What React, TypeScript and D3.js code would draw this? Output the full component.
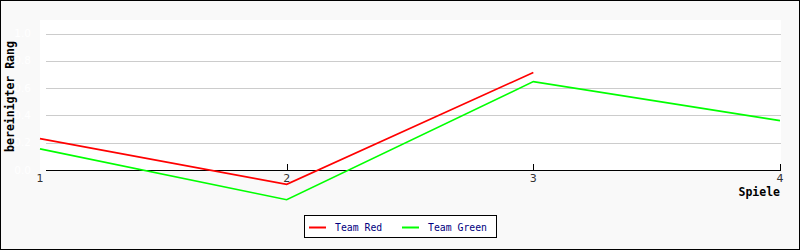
import React from "react";
import * as d3 from "d3";

const games = [1, 2, 3, 4];
const teamRed = [0.23, -0.105, 0.715];
const teamGreen = [0.155, -0.218, 0.648, 0.362];
const yTicks = [0, 0.2, 0.4, 0.6, 0.8, 1.0];
const seriesNames = ["Team Red", "Team Green"];
const seriesColors = ["#ff0000", "#00ff00"];

const W = 800;
const H = 250;

export default function App() {
  const x = d3.scaleLinear().domain([1, 4]).range([40, 780]);
  const y = d3.scaleLinear().domain([0, 1.1]).range([170, 20]);
  const line = d3
    .line<number>()
    .x((_, i) => x(games[i]))
    .y((d) => y(d));
  const series = [teamRed, teamGreen];
  const legendX = 304.5;
  const legendY = 215.5;
  const legendItemX = [0, 93];

  return (
    <svg
      width={W}
      height={H}
      style={{ position: "absolute", left: 0, top: 0 }}
      xmlns="http://www.w3.org/2000/svg"
    >
      <rect x={0.5} y={0.5} width={W - 1} height={H - 1} fill="#f9f9f9" stroke="#000" strokeWidth={1} />
      <rect x={40} y={20} width={741} height={150} fill="#fff" />
      {yTicks.map((t) =>
        t === 0 ? null : (
          <line key={"g" + t} x1={46} x2={781} y1={Math.round(y(t)) + 0.5} y2={Math.round(y(t)) + 0.5} stroke="#cccccc" strokeWidth={1} />
        )
      )}
      {yTicks.map((t) => (
        <text
          key={"yl" + t}
          x={31}
          y={y(t) + 3.5}
          textAnchor="end"
          fontFamily="DejaVu Sans"
          fontSize={10.5}
          fill="#ffffff"
        >
          {t.toFixed(1)}
        </text>
      ))}
      <line x1={46} x2={781} y1={170.5} y2={170.5} stroke="#000" strokeWidth={1} />
      {games.map((g, i) => (
        <g key={"xt" + g}>
          {i > 0 && (
            <line
              x1={Math.round(x(g)) + 0.5}
              x2={Math.round(x(g)) + 0.5}
              y1={164}
              y2={170}
              stroke="#000"
              strokeWidth={1}
            />
          )}
          <text
            x={x(g)}
            y={182}
            textAnchor="middle"
            fontFamily="DejaVu Sans"
            fontSize={11}
            fill="#333"
          >
            {g}
          </text>
        </g>
      ))}
      {series.map((s, i) => (
        <path
          key={"s" + i}
          d={line(s) || ""}
          fill="none"
          stroke={seriesColors[i]}
          strokeWidth={1.6}
        />
      ))}
      <text
        x={780}
        y={196}
        textAnchor="end"
        fontFamily="DejaVu Sans Mono"
        fontWeight="bold"
        fontSize={11.5}
        fill="#000"
      >
        Spiele
      </text>
      <text
        transform="translate(13.5,96.5) rotate(-90)"
        textAnchor="middle"
        fontFamily="DejaVu Sans Mono"
        fontWeight="bold"
        fontSize={11.5}
        fill="#000"
      >
        bereinigter Rang
      </text>
      <rect x={legendX} y={legendY} width={192} height={22} fill="#fff" stroke="#000" strokeWidth={1} />
      {seriesNames.map((n, i) => (
        <g key={"lg" + i}>
          <line
            x1={legendX + 4.5 + legendItemX[i]}
            x2={legendX + 21.5 + legendItemX[i]}
            y1={legendY + 12}
            y2={legendY + 12}
            stroke={seriesColors[i]}
            strokeWidth={2}
          />
          <text
            x={legendX + 30.5 + legendItemX[i]}
            y={legendY + 15.5}
            fontFamily="DejaVu Sans Mono"
            fontSize={9.8}
            fill="#000080"
          >
            {n}
          </text>
        </g>
      ))}
    </svg>
  );
}
